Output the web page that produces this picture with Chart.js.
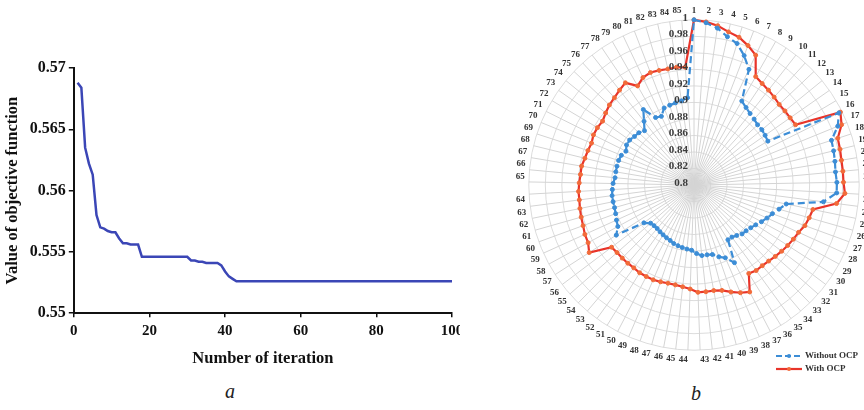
<!DOCTYPE html>
<html>
<head>
<meta charset="utf-8">
<script src="https://cdn.jsdelivr.net/npm/chart.js@4.4.1/dist/chart.umd.min.js"></script>
<style>
  html, body { margin:0; padding:0; width:864px; height:410px; overflow:hidden; background:#fff; }
  body { position:relative; font-family:"Liberation Serif","Times New Roman",serif; }
  #leftBox { position:absolute; left:0; top:0; width:460px; height:380px; overflow:hidden; }
  #rightBox { position:absolute; left:515px; top:5px; width:360px; height:360px; }
  .cap { position:absolute; font-style:italic; font-size:20px; color:#222; }
  #legend { position:absolute; left:776px; top:349px; font-size:9px; font-weight:bold; color:#333; line-height:13px; }
  #legend .row { display:flex; align-items:center; height:13px; }
  #legend svg { margin-right:3px; }
</style>
</head>
<body>
<div id="leftBox"><canvas id="conv" width="475" height="380"></canvas></div>
<div id="rightBox"><canvas id="radar" width="360" height="360"></canvas></div>
<div class="cap" style="left:225px;top:380px;">a</div>
<div class="cap" style="left:691px;top:382px;">b</div>
<div id="legend">
  <div class="row"><svg width="26" height="8"><line x1="0" y1="4" x2="26" y2="4" stroke="#3c8dd6" stroke-width="2.2" stroke-dasharray="6,3"/><circle cx="13" cy="4" r="2" fill="#3c8dd6"/></svg><span>Without OCP</span></div>
  <div class="row"><svg width="26" height="8"><line x1="0" y1="4" x2="26" y2="4" stroke="#e8342a" stroke-width="2.2"/><circle cx="13" cy="4" r="2" fill="#f26b3a"/></svg><span>With OCP</span></div>
</div>
<script>
// ---------- Data: convergence curve (chart a) ----------
const objectiveValues = [
  0.5688, 0.5684, 0.5635, 0.5622, 0.5613, 0.5580, 0.5570, 0.5569, 0.5567, 0.5566,
  0.5566, 0.5561, 0.5557, 0.5557, 0.5556, 0.5556, 0.5556, 0.5546, 0.5546, 0.5546,
  0.5546, 0.5546, 0.5546, 0.5546, 0.5546, 0.5546, 0.5546, 0.5546, 0.5546, 0.5546,
  0.5543, 0.5543, 0.5542, 0.5542, 0.5541, 0.5541, 0.5541, 0.5541, 0.5539, 0.5534,
  0.5530, 0.5528, 0.5526, 0.5526, 0.5526, 0.5526, 0.5526, 0.5526, 0.5526, 0.5526,
  0.5526, 0.5526, 0.5526, 0.5526, 0.5526, 0.5526, 0.5526, 0.5526, 0.5526, 0.5526,
  0.5526, 0.5526, 0.5526, 0.5526, 0.5526, 0.5526, 0.5526, 0.5526, 0.5526, 0.5526,
  0.5526, 0.5526, 0.5526, 0.5526, 0.5526, 0.5526, 0.5526, 0.5526, 0.5526, 0.5526,
  0.5526, 0.5526, 0.5526, 0.5526, 0.5526, 0.5526, 0.5526, 0.5526, 0.5526, 0.5526,
  0.5526, 0.5526, 0.5526, 0.5526, 0.5526, 0.5526, 0.5526, 0.5526, 0.5526, 0.5526
];
const xTickLabels = ['0', '20', '40', '60', '80', '100'];
const yTickLabels = ['0.55', '0.555', '0.56', '0.565', '0.57'];

// ---------- Data: radar (chart b) ----------
const nodeLabels = [
  '1','2','3','4','5','6','7','8','9','10','11','12','13','14','15','16','17','18','19','20',
  '21','22','23','24','25','26','27','28','29','30','31','32','33','34','35','36','37','38','39','40',
  '41','42','43','44','45','46','47','48','49','50','51','52','53','54','55','56','57','58','59','60',
  '61','62','63','64','65','66','67','68','69','70','71','72','73','74','75','76','77','78','79','80',
  '81','82','83','84','85'
];
const withoutOCP = [
  1.000, 0.997, 0.992, 0.984, 0.979, 0.968, 0.955, 0.917, 0.913, 0.910,
  0.908, 0.906, 0.906, 0.905, 0.904, 0.996, 0.988, 0.975, 0.974, 0.973,
  0.972, 0.973, 0.973, 0.958, 0.914, 0.907, 0.901, 0.897, 0.893, 0.889,
  0.886, 0.884, 0.883, 0.880, 0.878, 0.878, 0.906, 0.896, 0.892, 0.887,
  0.886, 0.886, 0.883, 0.879, 0.878, 0.877, 0.876, 0.875, 0.873, 0.872,
  0.871, 0.870, 0.869, 0.869, 0.870, 0.876, 0.912, 0.905, 0.903, 0.901,
  0.900, 0.900, 0.900, 0.899, 0.898, 0.896, 0.896, 0.896, 0.896, 0.895,
  0.892, 0.895, 0.895, 0.893, 0.892, 0.889, 0.898, 0.910, 0.894, 0.892,
  0.900, 0.901, 0.902, 0.903, 0.906
];
const withOCP = [
  1.000, 0.998, 0.995, 0.990, 0.987, 0.981, 0.974, 0.951, 0.948, 0.946,
  0.944, 0.942, 0.942, 0.942, 0.943, 0.998, 0.993, 0.983, 0.982, 0.981,
  0.981, 0.981, 0.983, 0.974, 0.947, 0.945, 0.943, 0.939, 0.937, 0.935,
  0.933, 0.931, 0.929, 0.928, 0.928, 0.926, 0.946, 0.942, 0.937, 0.932,
  0.930, 0.930, 0.930, 0.926, 0.924, 0.923, 0.923, 0.924, 0.925, 0.925,
  0.925, 0.924, 0.924, 0.924, 0.924, 0.925, 0.951, 0.946, 0.945, 0.943,
  0.942, 0.941, 0.940, 0.940, 0.939, 0.938, 0.938, 0.936, 0.935, 0.934,
  0.936, 0.936, 0.935, 0.938, 0.941, 0.943, 0.946, 0.949, 0.938, 0.944,
  0.946, 0.945, 0.944, 0.944, 0.943
];

const serif = '"Liberation Serif", "Times New Roman", serif';

// ---------- Chart a ----------
new Chart(document.getElementById('conv'), {
  type: 'line',
  data: {
    datasets: [{
      data: objectiveValues.map((v, i) => ({ x: i + 1, y: v })),
      borderColor: '#3b46b6',
      borderWidth: 2.5,
      pointRadius: 0,
      tension: 0,
      fill: false
    }]
  },
  options: {
    responsive: false,
    animation: false,
    layout: { padding: { left: 1, right: 23, top: 68, bottom: 7 } },
    plugins: { legend: { display: false }, tooltip: { enabled: false } },
    scales: {
      x: {
        type: 'linear', min: 0, max: 100,
        ticks: { stepSize: 20, color: '#111', padding: 5, maxRotation: 0,
                 font: { family: serif, size: 15, weight: 'bold' },
                 callback: (v, i) => xTickLabels[i] },
        grid: { drawOnChartArea: false, drawTicks: true, tickLength: 4, color: '#111', lineWidth: 1.5 },
        border: { display: true, color: '#111', width: 2 },
        title: { display: true, text: 'Number of iteration', color: '#111',
                 font: { family: serif, size: 16.5, weight: 'bold' }, padding: { top: 4, bottom: 4 } }
      },
      y: {
        min: 0.55, max: 0.57,
        ticks: { stepSize: 0.005, color: '#111', padding: 3,
                 font: { family: serif, size: 16, weight: 'bold' },
                 callback: (v, i) => yTickLabels[i] },
        grid: { drawOnChartArea: false, drawTicks: true, tickLength: 5, color: '#111', lineWidth: 1.5 },
        border: { display: true, color: '#111', width: 2 },
        title: { display: true, text: 'Value of objective function', color: '#111',
                 font: { family: serif, size: 16.5, weight: 'bold' }, padding: { top: 2, bottom: 4 } }
      }
    }
  }
});

// ---------- Chart b ----------
const rTickPlugin = {
  id: 'rTickLabels',
  afterDatasetsDraw(chart) {
    const s = chart.scales.r;
    const ctx = chart.ctx;
    ctx.save();
    ctx.font = 'bold 11px ' + serif;
    ctx.fillStyle = '#3a3a3a';
    ctx.textAlign = 'right';
    ctx.textBaseline = 'middle';
    s.ticks.forEach(t => {
      const d = s.getDistanceFromCenterForValue(t.value);
      ctx.fillText(String(Number(t.value.toFixed(2))), s.xCenter - 6, s.yCenter - d - 2);
    });
    ctx.restore();
  }
};

new Chart(document.getElementById('radar'), {
  type: 'radar',
  data: {
    labels: nodeLabels,
    datasets: [
      {
        label: 'Without OCP',
        data: withoutOCP,
        borderColor: '#3c8dd6',
        backgroundColor: '#3c8dd6',
        pointBackgroundColor: '#3c8dd6',
        pointBorderColor: '#3c8dd6',
        borderWidth: 2.2,
        borderDash: [7, 4],
        pointRadius: 2,
        pointBorderWidth: 1,
        fill: false,
        tension: 0
      },
      {
        label: 'With OCP',
        data: withOCP,
        borderColor: '#e8342a',
        backgroundColor: '#e8342a',
        pointBackgroundColor: '#f26b3a',
        pointBorderColor: '#f26b3a',
        borderWidth: 2.2,
        pointRadius: 2,
        pointBorderWidth: 1,
        fill: false,
        tension: 0
      }
    ]
  },
  options: {
    responsive: false,
    animation: false,
    plugins: { legend: { display: false }, tooltip: { enabled: false } },
    scales: {
      r: {
        min: 0.8, max: 1,
        ticks: { stepSize: 0.02, display: false },
        grid: { circular: true, color: '#dcdcdc', lineWidth: 1 },
        angleLines: { color: '#d4d4d4', lineWidth: 1 },
        pointLabels: { color: '#333', padding: 4,
                       font: { family: serif, size: 9, weight: 'bold' } }
      }
    }
  },
  plugins: [rTickPlugin]
});
</script>
</body>
</html>
